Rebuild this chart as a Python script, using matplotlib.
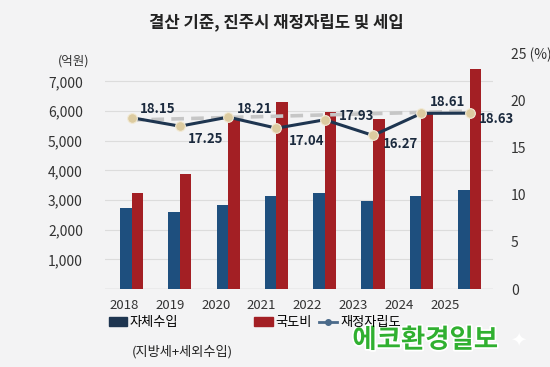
import numpy as np
import matplotlib
matplotlib.use('Agg')
import matplotlib.pyplot as plt
from matplotlib.patches import Patch
from matplotlib.lines import Line2D
import matplotlib.patheffects as pe

plt.rcParams['font.family'] = ['Noto Sans CJK KR', 'DejaVu Sans']

# ── data ──────────────────────────────────────────────
years      = ['2018', '2019', '2020', '2021', '2022', '2023', '2024', '2025']
own_rev    = [2730, 2585, 2820, 3125, 3240, 2955, 3125, 3350]     # 자체수입 (억원)
grants     = [3240, 3880, 5715, 6310, 5970, 5750, 5970, 7405]     # 국도비 (억원)
fin_indep  = [18.15, 17.25, 18.21, 17.04, 17.93, 16.27, 18.61, 18.63]  # 재정자립도 (%)
trend_ends = [17.9, 18.85]                                          # dashed trend, first/last year
left_ticks  = [1000, 2000, 3000, 4000, 5000, 6000, 7000]
right_ticks = [0, 5, 10, 15, 20, 25]
right_tick_labels = ['0', '5', '10', '15', '20', '25 (%)']

BLUE = '#1e4f7e'
RED = '#a31f24'
NAVY = '#1e3550'
BG = '#f3f3f4'

fig = plt.figure(figsize=(5.5, 3.67), dpi=100, facecolor=BG)
ax = fig.add_axes([0.191, 0.2125, 0.705, 0.643])
ax.set_facecolor('none')

x = np.arange(len(years))
w = 0.24
ax.bar(x - w/2, own_rev, width=w, color=BLUE, zorder=2)
ax.bar(x + w/2, grants, width=w, color=RED, zorder=2)

ax.set_xlim(-0.55, 7.48)
ax.set_ylim(0, 7960)
ax.set_yticks(left_ticks)
ax.set_yticklabels([f'{v:,}' for v in left_ticks], fontsize=10, color='#333333')
ax.yaxis.grid(True, color='#dcdcdc', linewidth=0.8, zorder=0)
ax.set_axisbelow(True)
ax.axhline(0, color='#c8c8c8', linewidth=1, zorder=1)
for s in ax.spines.values():
    s.set_visible(False)
ax.tick_params(axis='y', length=0, pad=16)
# year labels drift slightly left of the bar pairs in the original
ax.set_xticks(x * 0.95 - 0.16)
ax.set_xticklabels(years, fontsize=9.5, color='#333333')
ax.tick_params(axis='x', length=0, pad=7)

# ── right axis: 재정자립도 ──────────────────────────────
ax2 = ax.twinx()
ax2.set_ylim(0, 25)
ax2.set_yticks(right_ticks)
ax2.set_yticklabels(right_tick_labels, fontsize=10, color='#333333')
ax2.tick_params(axis='y', length=0, pad=13)
for s in ax2.spines.values():
    s.set_visible(False)

ax2.plot([x[0], x[-1]], trend_ends, color='#c6c6c6', linewidth=2.6,
         linestyle=(0, (3.5, 2)), zorder=3)
ax2.plot(x, fin_indep, color=NAVY, linewidth=2.2, zorder=4,
         marker='o', markersize=7, markerfacecolor='#dccba0',
         markeredgecolor='#f2ead6', markeredgewidth=0.8)

offsets = [(6, 6), (6, -9), (6, 6), (9, -9), (10, 3), (7, -6), (6, 8), (7, -4)]
for xi, v, off in zip(x, fin_indep, offsets):
    ax2.annotate(f'{v:.2f}', (xi, v), xytext=off, textcoords='offset points',
                 ha='left', va='center', fontsize=9.5, fontweight='bold',
                 color='#1b2a3e', zorder=5)

fig.text(0.162, 0.834, '(억원)', ha='right', va='center', fontsize=9, color='#333333')

# ── title ─────────────────────────────────────────────
fig.text(0.502, 0.94, '결산 기준, 진주시 재정자립도 및 세입', ha='center', va='center',
         fontsize=12, fontweight='bold', color='#222222')

# ── legend ────────────────────────────────────────────
leg_kw = dict(frameon=False, fontsize=9.5, handlelength=1.4, handleheight=0.7,
              handletextpad=0.2, borderaxespad=0, borderpad=0)
fig.legend(handles=[Patch(color=NAVY)], labels=['자체수입'],
           loc='center left', bbox_to_anchor=(0.198, 0.12), **leg_kw)
fig.legend(handles=[Patch(color=RED)], labels=['국도비'],
           loc='center left', bbox_to_anchor=(0.462, 0.12), **leg_kw)
fig.legend(handles=[Line2D([], [], color='#4a6a8a', linewidth=2, marker='o', markersize=4)],
           labels=['재정자립도'], loc='center left', bbox_to_anchor=(0.58, 0.12), **leg_kw)
fig.text(0.24, 0.041, '(지방세+세외수입)', ha='left', va='center', fontsize=9.5, color='#222222')

# watermark
fig.text(0.773, 0.073, '에코환경일보', ha='center', va='center', fontsize=19,
         fontweight='bold', color='#30b030',
         path_effects=[pe.withStroke(linewidth=2.5, foreground='white')])
fig.text(0.943, 0.073, '✦', ha='center', va='center', fontsize=14,
         color='#ffffff', family='DejaVu Sans')

fig.savefig('out.png', dpi=100, facecolor=BG)
